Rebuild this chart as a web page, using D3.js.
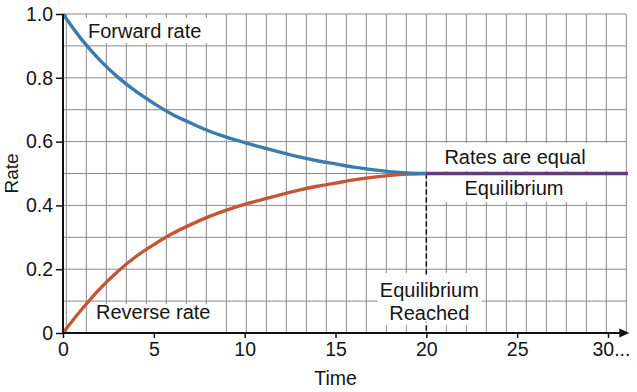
<!DOCTYPE html>
<html>
<head>
<meta charset="utf-8">
<script src="https://cdn.jsdelivr.net/npm/d3@7"></script>
<style>
  body { margin: 0; background: #fff; }
  text { font-family: "Liberation Sans", Arial, sans-serif; fill: #151515; }
</style>
</head>
<body>
<svg width="637" height="392"></svg>
<script>
// values
const time = [0, 1, 2, 3, 4, 5, 6, 7, 8, 9, 10, 11, 12, 13, 14, 15, 16, 17, 18, 19, 20];
const forwardRate = [1.0, 0.922, 0.857, 0.803, 0.758, 0.72, 0.686, 0.659, 0.634, 0.614, 0.597, 0.581, 0.566, 0.552, 0.54, 0.53, 0.52, 0.512, 0.506, 0.502, 0.5];
const reverseRate = [0, 0.072, 0.137, 0.192, 0.239, 0.277, 0.311, 0.339, 0.364, 0.385, 0.403, 0.419, 0.434, 0.448, 0.46, 0.47, 0.48, 0.488, 0.494, 0.498, 0.5];
const equilibriumTime = [20, 31.1];
const equilibriumRate = [0.5, 0.5];
const xTicks = [0, 5, 10, 15, 20, 25, 30];
const yTicks = [0, 0.2, 0.4, 0.6, 0.8, 1.0];
const yGridLines = [0, 0.1, 0.2, 0.3, 0.4, 0.5, 0.6, 0.7, 0.8, 0.9, 1.0];

const svg = d3.select('svg');
const x = d3.scaleLinear().domain([0, 30]).range([63, 608]);
const y = d3.scaleLinear().domain([0, 1]).range([333, 14]);

const gridPx = 20;       // the paper grid is not tied to time units
const gridRight = x(20) + 10 * gridPx;
const gridCols = d3.range(0, 29).map(i => x(20) + (i - 18) * gridPx);

const grid = svg.append('g').attr('stroke', '#8a8a8a').attr('stroke-width', 1);
grid.selectAll('.vg').data(gridCols).enter().append('line')
  .attr('x1', d => d).attr('x2', d => d)
  .attr('y1', y(1)).attr('y2', y(0));
grid.selectAll('.hg').data(yGridLines).enter().append('line')
  .attr('x1', x(0)).attr('x2', gridRight)
  .attr('y1', d => y(d)).attr('y2', d => y(d));

// white label boxes over the grid
function box(x0, y0, w, h) {
  svg.append('rect').attr('x', x0).attr('y', y0).attr('width', w).attr('height', h).attr('fill', '#fff');
}
box(85, 18, 122, 25);
box(93, 304, 122, 28);
box(432, 143, 175, 28);
box(440, 174, 150, 28);
box(378, 273, 104, 52);

// dashed line at equilibrium
svg.append('line')
  .attr('x1', x(20)).attr('x2', x(20))
  .attr('y1', y(0.5)).attr('y2', y(0))
  .attr('stroke', '#111').attr('stroke-width', 1.5)
  .attr('stroke-dasharray', '5,3');
// re-cover dashed line behind the lower label
box(380, 276, 100, 46);

const line = d3.line()
  .x(d => x(d[0]))
  .y(d => y(d[1]))
  .curve(d3.curveMonotoneX);

svg.append('path')
  .datum(d3.zip(time, reverseRate))
  .attr('d', line)
  .attr('fill', 'none').attr('stroke', '#c45636').attr('stroke-width', 3.4);
svg.append('path')
  .datum(d3.zip(time, forwardRate))
  .attr('d', line)
  .attr('fill', 'none').attr('stroke', '#3b7cb0').attr('stroke-width', 3.4);
svg.append('path')
  .datum(d3.zip(equilibriumTime, equilibriumRate))
  .attr('d', line)
  .attr('fill', 'none').attr('stroke', '#66387f').attr('stroke-width', 3.4);

// axes
const xAxis = svg.append('g')
  .attr('transform', 'translate(0,' + y(0) + ')')
  .call(d3.axisBottom(x).tickValues(xTicks).tickSize(5).tickPadding(4)
    .tickFormat(d => d === 30 ? '30...' : d));
xAxis.select('.domain').remove();
xAxis.selectAll('line').attr('stroke', '#111').attr('stroke-width', 1.5);
xAxis.selectAll('text').attr('font-size', 19.5).attr('fill', '#151515');
xAxis.selectAll('.tick').filter(d => d === 30).select('text')
  .attr('text-anchor', 'start').attr('x', -16);

const yAxis = svg.append('g')
  .attr('transform', 'translate(' + x(0) + ',0)')
  .call(d3.axisLeft(y).tickValues(yTicks).tickSize(7).tickPadding(3)
    .tickFormat(d => d === 0 ? '0' : d3.format('.1f')(d)));
yAxis.select('.domain').remove();
yAxis.selectAll('line').attr('stroke', '#111').attr('stroke-width', 1.5);
yAxis.selectAll('text').attr('font-size', 19.5).attr('fill', '#151515');

svg.append('line')
  .attr('x1', x(0)).attr('x2', x(0))
  .attr('y1', y(1)).attr('y2', y(0) + 1)
  .attr('stroke', '#111').attr('stroke-width', 2);
svg.append('line')
  .attr('x1', x(0) - 1).attr('x2', gridRight - 4)
  .attr('y1', y(0)).attr('y2', y(0))
  .attr('stroke', '#111').attr('stroke-width', 2);
svg.append('path')
  .attr('d', 'M' + (gridRight + 3) + ',' + y(0) + 'l-10,-4.5l0,9z')
  .attr('fill', '#111');

// titles
svg.append('text')
  .attr('x', x(15)).attr('y', 385)
  .attr('text-anchor', 'middle').attr('font-size', 19.5)
  .text('Time');
svg.append('text')
  .attr('transform', 'translate(18,' + y(0.5) + ') rotate(-90)')
  .attr('text-anchor', 'middle').attr('font-size', 19)
  .text('Rate');

// annotations
function label(tx, ty, s, anchor) {
  svg.append('text').attr('x', tx).attr('y', ty)
    .attr('text-anchor', anchor || 'start').attr('font-size', 20).text(s);
}
label(88, 38, 'Forward rate');
label(96, 319, 'Reverse rate');
label(515, 164, 'Rates are equal', 'middle');
label(514, 195, 'Equilibrium', 'middle');
label(x(20) + 3, 297, 'Equilibrium', 'middle');
label(x(20) + 3, 320, 'Reached', 'middle');
</script>
</body>
</html>
